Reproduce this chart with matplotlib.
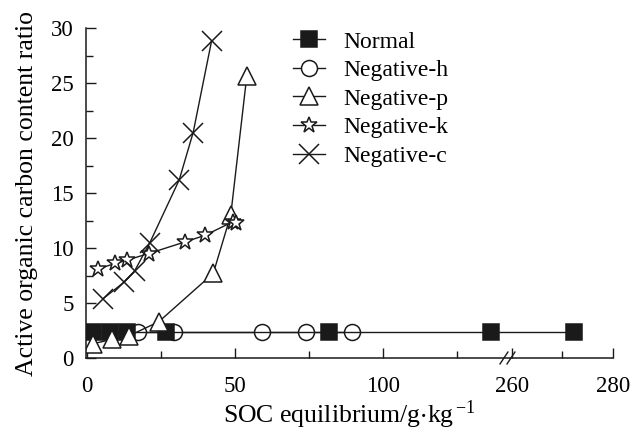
import numpy as np
import matplotlib
matplotlib.use("Agg")
import matplotlib.pyplot as plt
from matplotlib.ticker import FixedLocator, FixedFormatter

plt.rcParams['font.family'] = ['Liberation Serif', 'DejaVu Serif']
plt.rcParams['mathtext.fontset'] = 'stix'

# data (SOC equilibrium, g/kg  vs  ratio)
normal_x = [2.0, 7.7, 13.3, 26.6, 81.6, 136.4, 272.3]
normal_y = [2.4, 2.4, 2.4, 2.4, 2.4, 2.4, 2.4]

neg_h_x = [17.0, 29.4, 59.0, 74.0, 89.3]
neg_h_y = [2.4, 2.4, 2.4, 2.4, 2.4]

neg_p_x = [2.0, 8.5, 14.0, 24.2, 42.6, 48.5, 53.9]
neg_p_y = [1.3, 1.7, 2.0, 3.3, 7.7, 13.0, 25.6]

neg_k_x = [3.7, 9.5, 13.5, 20.8, 33.0, 39.8, 49.3, 50.4]
neg_k_y = [8.1, 8.6, 8.9, 9.5, 10.55, 11.15, 12.4, 12.25]

neg_c_x = [5.4, 12.5, 16.0, 21.2, 31.1, 35.8, 42.0]
neg_c_y = [5.4, 6.9, 7.9, 10.5, 16.2, 20.5, 28.8]

labels = ['Normal', 'Negative-h', 'Negative-p', 'Negative-k', 'Negative-c']

x_major = [0, 50, 100, 260, 280]
x_minor = [25, 75, 125, 270]

# broken x axis: 0..B1 at one scale, B2..280 stretched
B1, B2, R, GAP = 141.1, 258.6, 1.706, 0.01


def fwd(x):
    x = np.asarray(x, dtype=float)
    return np.where(x <= B1, x,
                    np.where(x >= B2, B1 + GAP + (x - B2) * R,
                             B1 + (x - B1) * GAP / (B2 - B1)))


def inv(u):
    u = np.asarray(u, dtype=float)
    return np.where(u <= B1, u,
                    np.where(u >= B1 + GAP, B2 + (u - B1 - GAP) / R,
                             B1 + (u - B1) * (B2 - B1) / GAP))


fig = plt.figure(figsize=(6.36, 4.30), dpi=100)
ax = fig.add_axes([86 / 636, 1 - 358 / 430, 527 / 636, 330 / 430])
ax.set_xscale('function', functions=(fwd, inv))

ink = '#1a1a1a'
common = dict(color=ink, lw=1.0, mec=ink, mew=1.1)
ax.plot(neg_h_x, neg_h_y, marker='o', ms=11.5, mfc='white', label=labels[1], **common)
ax.plot(normal_x, normal_y, marker='s', ms=11, mfc=ink, label=labels[0], **common)
ax.plot(neg_p_x, neg_p_y, marker='^', ms=12.5, mfc='white', label=labels[2], **common)
ax.plot(neg_k_x, neg_k_y, marker='*', ms=12, mfc='white', label=labels[3], **common)
ax.plot(neg_c_x, neg_c_y, marker='x', ms=14, mfc='none', label=labels[4], **common)

ax.set_xlim(-0.4, 280)
ax.set_ylim(0, 30)
ax.xaxis.set_major_locator(FixedLocator(x_major))
ax.xaxis.set_major_formatter(FixedFormatter([str(v) for v in x_major]))
ax.xaxis.set_minor_locator(FixedLocator(x_minor))
ax.set_yticks(np.arange(0, 31, 5))
ax.set_yticks(np.arange(2.5, 30, 5), minor=True)

for s in ['top', 'right']:
    ax.spines[s].set_visible(False)
for s in ['left', 'bottom']:
    ax.spines[s].set_linewidth(1.1)
    ax.spines[s].set_color(ink)

ax.tick_params(which='both', direction='in', color=ink, width=1.0)
ax.tick_params(which='major', length=7)
ax.tick_params(which='minor', length=5)
ax.tick_params(axis='x', which='major', pad=13, labelsize=16.5)
ax.tick_params(axis='y', which='major', pad=9, labelsize=16.5)

ax.set_xlabel(r'SOC equilibrium/g$\cdot$kg$^{\,\mathregular{-1}}$', fontsize=18.5, labelpad=1)
ax.set_ylabel('Active organic carbon content ratio', fontsize=18.5, labelpad=9)

# break mark on the x axis
xf = (500 - 86) / 527
for dx in (0.0, 0.0133):
    ax.plot([xf + dx, xf + dx + 0.015], [-0.018, 0.018], transform=ax.transAxes,
            color=ink, lw=1.0, clip_on=False)

handles, labs = ax.get_legend_handles_labels()
order = [labs.index(l) for l in labels]
fig.legend([handles[i] for i in order], labels, loc='upper left',
           bbox_to_anchor=(293 / 636, 1 - 31 / 430), frameon=False,
           fontsize=17, handlelength=1.35, handletextpad=0.8,
           labelspacing=0.3, borderpad=0, borderaxespad=0)

fig.savefig('out.png', dpi=100)
